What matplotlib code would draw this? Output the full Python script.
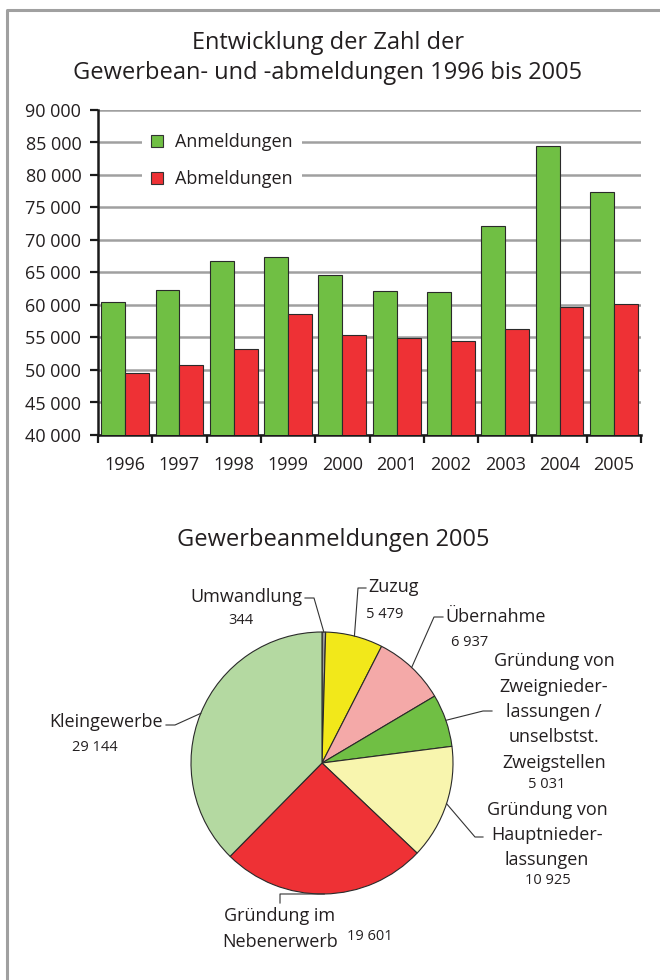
import matplotlib
matplotlib.use("Agg")
import matplotlib.pyplot as plt
import numpy as np
from matplotlib.ticker import FuncFormatter, MultipleLocator, FixedLocator
from matplotlib.patches import Patch
from matplotlib.lines import Line2D

# --- data -----------------------------------------------------------------
years = ["1996", "1997", "1998", "1999", "2000",
         "2001", "2002", "2003", "2004", "2005"]
anmeldungen = [60500, 62300, 66700, 67400, 64600,
               62200, 62000, 72100, 84400, 77461]
abmeldungen = [49500, 50700, 53200, 58600, 55400,
               54900, 54400, 56300, 59700, 60150]

pie_labels = ["Umwandlung", "Zuzug", "Übernahme",
              "Gründung von\nZweignieder-\nlassungen /\nunselbstst.\nZweigstellen",
              "Gründung von\nHauptnieder-\nlassungen",
              "Gründung im\nNebenerwerb",
              "Kleingewerbe"]
pie_values = [344, 5479, 6937, 5031, 10925, 19601, 29144]
pie_colors = ["#9a9a9a", "#f2e81a", "#f4a9a8", "#70bf44",
              "#f8f5ae", "#ee3135", "#b4d9a1"]

# --- layout (pixels, origin top-left) -------------------------------------
W, H = 660, 980
GREEN, RED = "#70bf44", "#ee3135"
TXT = "#231f20"
GRID = "#a0a0a0"

plt.rcParams["font.family"] = ["Open Sans", "DejaVu Sans"]
plt.rcParams["text.color"] = TXT


def fig_xy(x, y):
    return x / W, 1 - y / H


def fmt_thousands(v, pos):
    return f"{int(v):,}".replace(",", " ")


fig = plt.figure(figsize=(W / 100, H / 100), dpi=100)

# grey frame (top and left only)
fig.add_artist(Line2D([7 / W, 7 / W, 1], [0, 1 - 10 / H, 1 - 10 / H],
                      transform=fig.transFigure, color=GRID, lw=2.2))

# --- bar chart ------------------------------------------------------------
fig.text(*fig_xy(328, 58), "Entwicklung der Zahl der\nGewerbean- und -abmeldungen 1996 bis 2005",
         ha="center", va="center", fontsize=17, linespacing=1.3)

ax = fig.add_axes([98 / W, 1 - 435 / H, (641 - 98) / W, (435 - 110) / H])
x = np.arange(len(years))
bw = 0.44
ax.bar(x - bw / 2, anmeldungen, bw, color=GREEN, edgecolor="#2a2a2a", lw=0.8, zorder=3)
ax.bar(x + bw / 2, abmeldungen, bw, color=RED, edgecolor="#2a2a2a", lw=0.8, zorder=3)

ax.set_xlim(-0.5, len(years) - 0.5)
ax.set_ylim(40000, 90000)
ax.yaxis.set_major_locator(MultipleLocator(5000))
ax.yaxis.set_major_formatter(FuncFormatter(fmt_thousands))
ax.yaxis.grid(True, color=GRID, lw=1.8)
ax.set_axisbelow(True)

ax.set_xticks(x)
ax.set_xticklabels(years)
ax.xaxis.set_minor_locator(FixedLocator(np.arange(len(years) + 1) - 0.5))
ax.tick_params(axis="x", which="major", length=0, pad=15, labelsize=13, labelcolor=TXT)
ax.tick_params(axis="x", which="minor", length=6, width=1.6, color="#1a1a1a", direction="out")
ax.tick_params(axis="y", length=6, width=1.6, color="#1a1a1a", pad=6, labelsize=13, labelcolor=TXT)

for side in ("top", "right"):
    ax.spines[side].set_visible(False)
for side in ("left", "bottom"):
    ax.spines[side].set_linewidth(1.8)
    ax.spines[side].set_color("#1a1a1a")

handles = [Patch(facecolor=GREEN, edgecolor="#333333", lw=0.8),
           Patch(facecolor=RED, edgecolor="#333333", lw=0.8)]
leg = ax.legend(handles, ["Anmeldungen", "Abmeldungen"], loc="upper left",
                bbox_to_anchor=((142 - 98) / 543, (435 - 124) / 325),
                frameon=True, facecolor="white", edgecolor="none", framealpha=1,
                fancybox=False, fontsize=13, handlelength=0.65, handleheight=0.65,
                handletextpad=0.7, labelspacing=1.05, borderpad=0.5, borderaxespad=0)
for t in leg.get_texts():
    t.set_color(TXT)

# --- pie chart ------------------------------------------------------------
fig.text(*fig_xy(333, 540), "Gewerbeanmeldungen 2005", ha="center", va="center", fontsize=17)

cx, cy, r = 322, 763, 131
pax = fig.add_axes([(cx - r) / W, 1 - (cy + r) / H, 2 * r / W, 2 * r / H])
wedges, _ = pax.pie(pie_values, colors=pie_colors, startangle=90, counterclock=False,
                    radius=1, wedgeprops=dict(edgecolor="#2a2a2a", linewidth=0.8))
pax.set_xlim(-1, 1)
pax.set_ylim(-1, 1)
pax.axis("off")

# leader elbows and ends, label anchors (pixels)
leaders = [
    [(314, 598), (305, 598)],
    [(358, 588), (366, 588)],
    [(434, 617), (443, 617)],
    [(483, 711), (492, 711)],
    [(475, 837), (483, 837)],
    [(280, 894), (280, 903)],
    [(175, 725), (166, 725)],
]
name_pos = [((303, 597), "right"), ((368, 587), "left"), ((445, 617), "left"),
            ((554, 712), "center"), ((547, 835), "center"), ((280, 929), "center"),
            ((163, 722), "right")]
value_pos = [(241, 620), (385, 614), (470, 643), (547, 785),
             (548, 880), (370, 936), (95, 747)]

inv = fig.transFigure.inverted()
for w, label, val, pts, (npos, ha), vpos in zip(wedges, pie_labels, pie_values,
                                               leaders, name_pos, value_pos):
    mid = np.deg2rad((w.theta1 + w.theta2) / 2)
    edge = inv.transform(pax.transData.transform((np.cos(mid), np.sin(mid))))
    xs = [edge[0]] + [fig_xy(*p)[0] for p in pts]
    ys = [edge[1]] + [fig_xy(*p)[1] for p in pts]
    fig.add_artist(Line2D(xs, ys, transform=fig.transFigure, color="#333333", lw=0.8))
    fig.text(*fig_xy(*npos), label, ha=ha, va="center", fontsize=13,
             linespacing=1.52, multialignment="center")
    fig.text(*fig_xy(*vpos), fmt_thousands(val, None), ha="center", va="center",
             fontsize=10.5)

fig.savefig("out.png", dpi=100, facecolor="white")
